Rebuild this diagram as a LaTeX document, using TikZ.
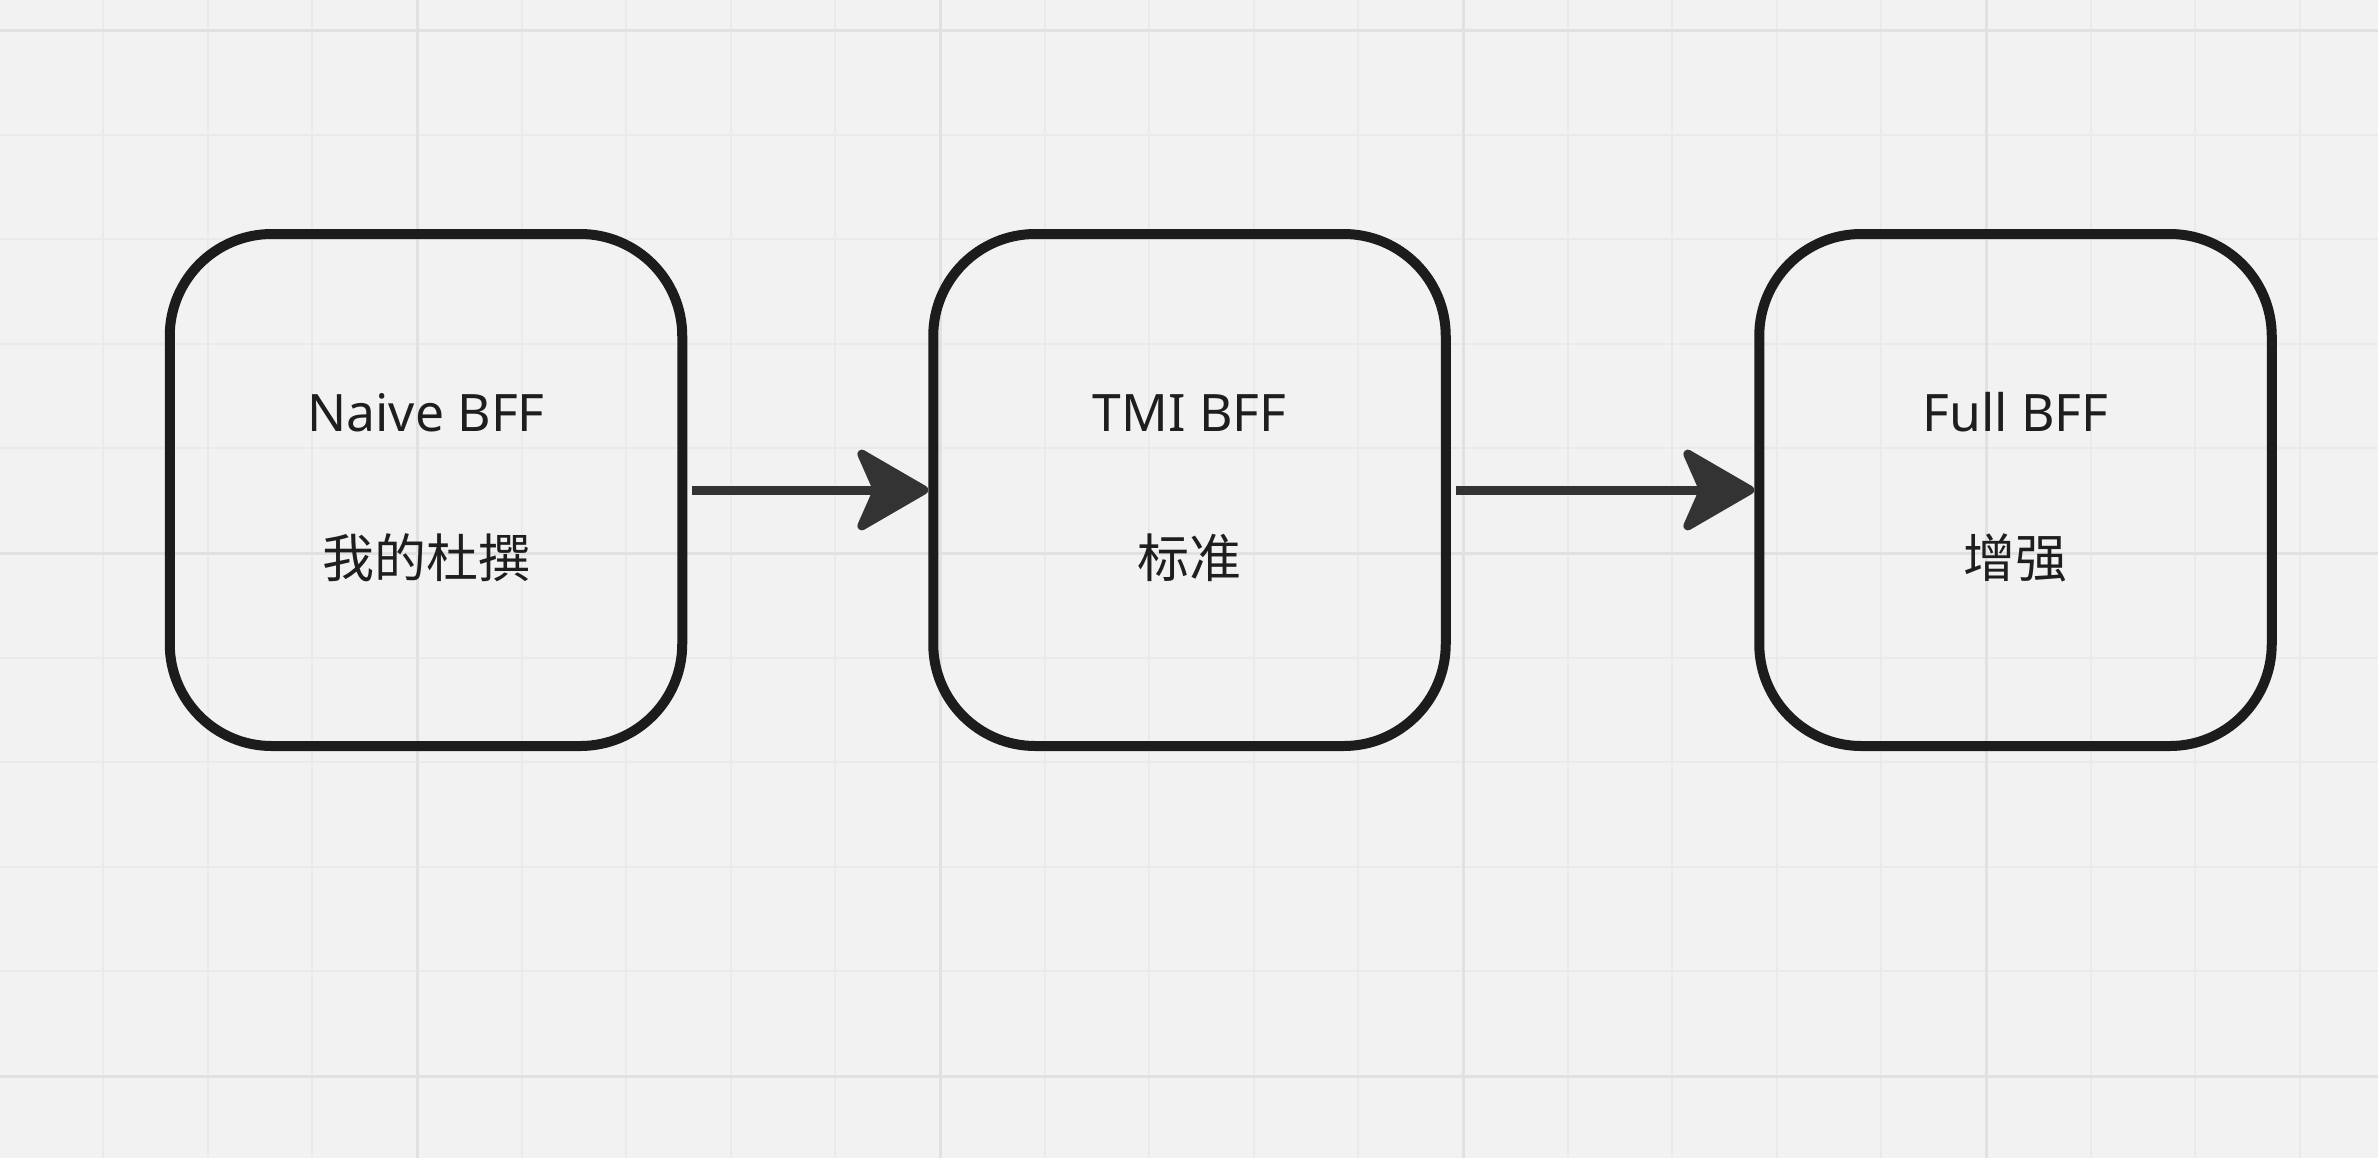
\documentclass[tikz,border=0pt]{standalone}
\usepackage{fontspec}
\setmainfont{Noto Sans}
\newfontfamily\cjk{Noto Sans CJK SC}
\usetikzlibrary{arrows.meta}
\definecolor{bgc}{HTML}{F2F2F2}
\definecolor{minorc}{HTML}{EAEAEA}
\definecolor{majorc}{HTML}{E1E1E1}
\definecolor{boxc}{HTML}{1C1C1C}
\definecolor{arrc}{HTML}{333333}
\definecolor{txtc}{HTML}{1E1E1E}
\begin{document}
\begin{tikzpicture}[x=0.5pt,y=-0.5pt,
  minorline/.style={draw=minorc, line width=1pt},
  majorline/.style={draw=majorc, line width=1.5pt},
  box/.style={draw=boxc, line width=5pt, rounded corners=51pt,
    minimum width=256.25pt, minimum height=256pt, inner sep=0pt},
  lat/.style={font=\fontsize{25.8}{30}\selectfont, text=txtc, anchor=base, inner sep=0pt},
  han/.style={font=\cjk\fontsize{26}{30}\selectfont, text=txtc, anchor=base, inner sep=0pt},
  conn/.style={draw=arrc, line width=4.5pt, shorten <=2.5pt,
    -{Stealth[length=40pt,width=46pt,inset=10pt,round]}}]
\fill[bgc] (0,0) rectangle (2378,1158);
\useasboundingbox (0,0) rectangle (2378,1158);
\foreach \k in {-3,...,18} \draw[minorline] ({417+104.6*\k},0) -- ++(0,1158);
\foreach \k in {0,...,10} \draw[minorline] (0,{30+104.6*\k}) -- ++(2378,0);
\foreach \xx in {417,940,1463,1986} \draw[majorline] (\xx,0) -- ++(0,1158);
\foreach \yy in {30,553,1076} \draw[majorline] (0,\yy) -- ++(2378,0);

\node[box] (b1) at (426,490) {};
\node[box] (b2) at (1189.5,490) {};
\node[box] (b3) at (2015.5,490) {};

\node[lat] (t1) at (426,431) {Naive BFF};
\node[lat] (t2) at (1189.5,431) {TMI BFF};
\node[lat] (t3) at (2015.5,431) {Full BFF};
\node[han] (c1) at (426,577) {我的杜撰};
\node[han] (c2) at (1189.5,577) {标准};
\node[han] (c3) at (2015.5,577) {增强};

\draw[conn] (b1.east) -- (b2.west);
\draw[conn] (b2.east) -- (b3.west);
\end{tikzpicture}
\end{document}
